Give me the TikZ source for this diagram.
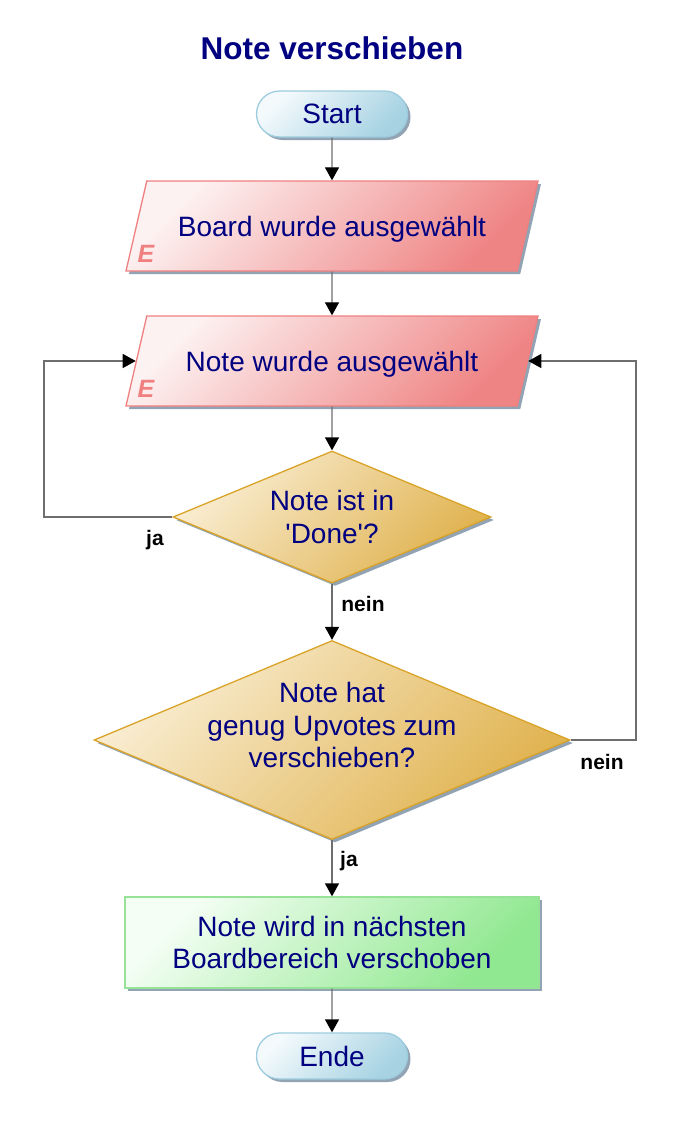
\documentclass[tikz,border=0pt]{standalone}
\usepackage{fontspec}
\setmainfont{Liberation Sans}
\usetikzlibrary{shapes.geometric,shapes.misc,arrows.meta,shadows}
\definecolor{navy}{HTML}{000080}
\definecolor{linec}{HTML}{6E6E6E}
\definecolor{shadowc}{HTML}{7F93A6}
\definecolor{pillborder}{HTML}{9CCCDE}
\definecolor{pilllight}{HTML}{F4FAFC}
\definecolor{pilldark}{HTML}{A6D2E2}
\definecolor{ioborder}{HTML}{F08080}
\definecolor{iolight}{HTML}{FDF2F2}
\definecolor{iodark}{HTML}{EF8484}
\definecolor{decborder}{HTML}{D9A328}
\definecolor{declight}{HTML}{F9EDD2}
\definecolor{decdark}{HTML}{E0B24E}
\definecolor{actborder}{HTML}{96E296}
\definecolor{actlight}{HTML}{F4FEF4}
\definecolor{actdark}{HTML}{90E890}
\definecolor{Ecol}{HTML}{F08080}
\tikzset{
  base/.style={font=\fontsize{28}{32.5}\selectfont, text=navy, align=center, inner sep=0pt},
  shadowed/.style={drop shadow={shadow xshift=3pt, shadow yshift=-3pt, fill=shadowc, opacity=0.85}},
  terminal/.style={base, shadowed, rounded rectangle, minimum width=151pt, minimum height=46pt,
    draw=pillborder, line width=1.3pt, top color=pilllight, bottom color=pilldark, shading angle=45},
  iobox/.style={base, shadowed, trapezium, trapezium left angle=77, trapezium right angle=103,
    inner xsep=0pt, inner ysep=30pt, text height=25pt, text depth=5pt,
    trapezium stretches body=true, minimum width=412pt,
    draw=ioborder, line width=1.3pt, top color=iolight, bottom color=iodark, shading angle=45},
  decision/.style={base, shadowed, diamond, aspect=2.4, draw=decborder, line width=1.3pt,
    top color=declight, bottom color=decdark, shading angle=45},
  actbox/.style={base, shadowed, rectangle, minimum width=414pt, minimum height=91pt,
    draw=actborder, line width=1.3pt, top color=actlight, bottom color=actdark, shading angle=45},
  conn/.style={draw=linec, line width=1.3pt, -{Triangle[length=13pt,width=14pt,color=black]}},
  lab/.style={font=\bfseries\fontsize{21}{24}\selectfont, text=black, inner sep=0pt},
  emark/.style={font=\bfseries\itshape\fontsize{25}{28}\selectfont, text=Ecol, inner sep=0pt},
  titlestyle/.style={font=\bfseries\fontsize{31.5}{36}\selectfont, text=navy, inner sep=0pt}
}
\begin{document}
\begin{tikzpicture}[x=1pt,y=-1pt]
\useasboundingbox (0,0) rectangle (679,1122);
\node[titlestyle] (title) at (332,48) {Note verschieben};
\node[terminal] (start) at (332,114) {Start};
\node[iobox] (board) at (332,226) {Board wurde ausgewählt};
\node[emark] (e1) at (146,254) {E};
\node[iobox] (note) at (332,361) {Note wurde ausgewählt};
\node[emark] (e2) at (146,389) {E};
\node[decision, minimum width=318pt, minimum height=132pt,
      label={[base]center:{Note ist in\\\textquotesingle Done\textquotesingle ?}}] (d1) at (332,517) {};
\node[decision, minimum width=476pt, minimum height=199pt,
      label={[base, yshift=15pt]center:{Note hat\\genug Upvotes zum\\verschieben?}}] (d2) at (332,740) {};
\node[actbox] (act) at (332,942.5) {Note wird in nächsten\\Boardbereich verschoben};
\node[terminal] (ende) at (332,1056) {Ende};

\coordinate (lc) at (44,517);
\coordinate (rc) at (636,740);

\draw[conn] (start) -- (board);
\draw[conn] (board) -- (note);
\draw[conn] (note) -- (d1);
\draw[conn] (d1.west) -- (lc) |- (note.west);
\draw[conn] (d1.south) -- (d2.north);
\draw[conn] (d2.east) -- (rc) |- (note.east);
\draw[conn] (d2.south) -- (act.north);
\draw[conn] (act) -- (ende);

\node[lab] (ja1) at (155,540) {ja};
\node[lab] (nein1) at (363,604) {nein};
\node[lab] (nein2) at (602,762) {nein};
\node[lab] (ja2) at (349,861) {ja};
\end{tikzpicture}
\end{document}
